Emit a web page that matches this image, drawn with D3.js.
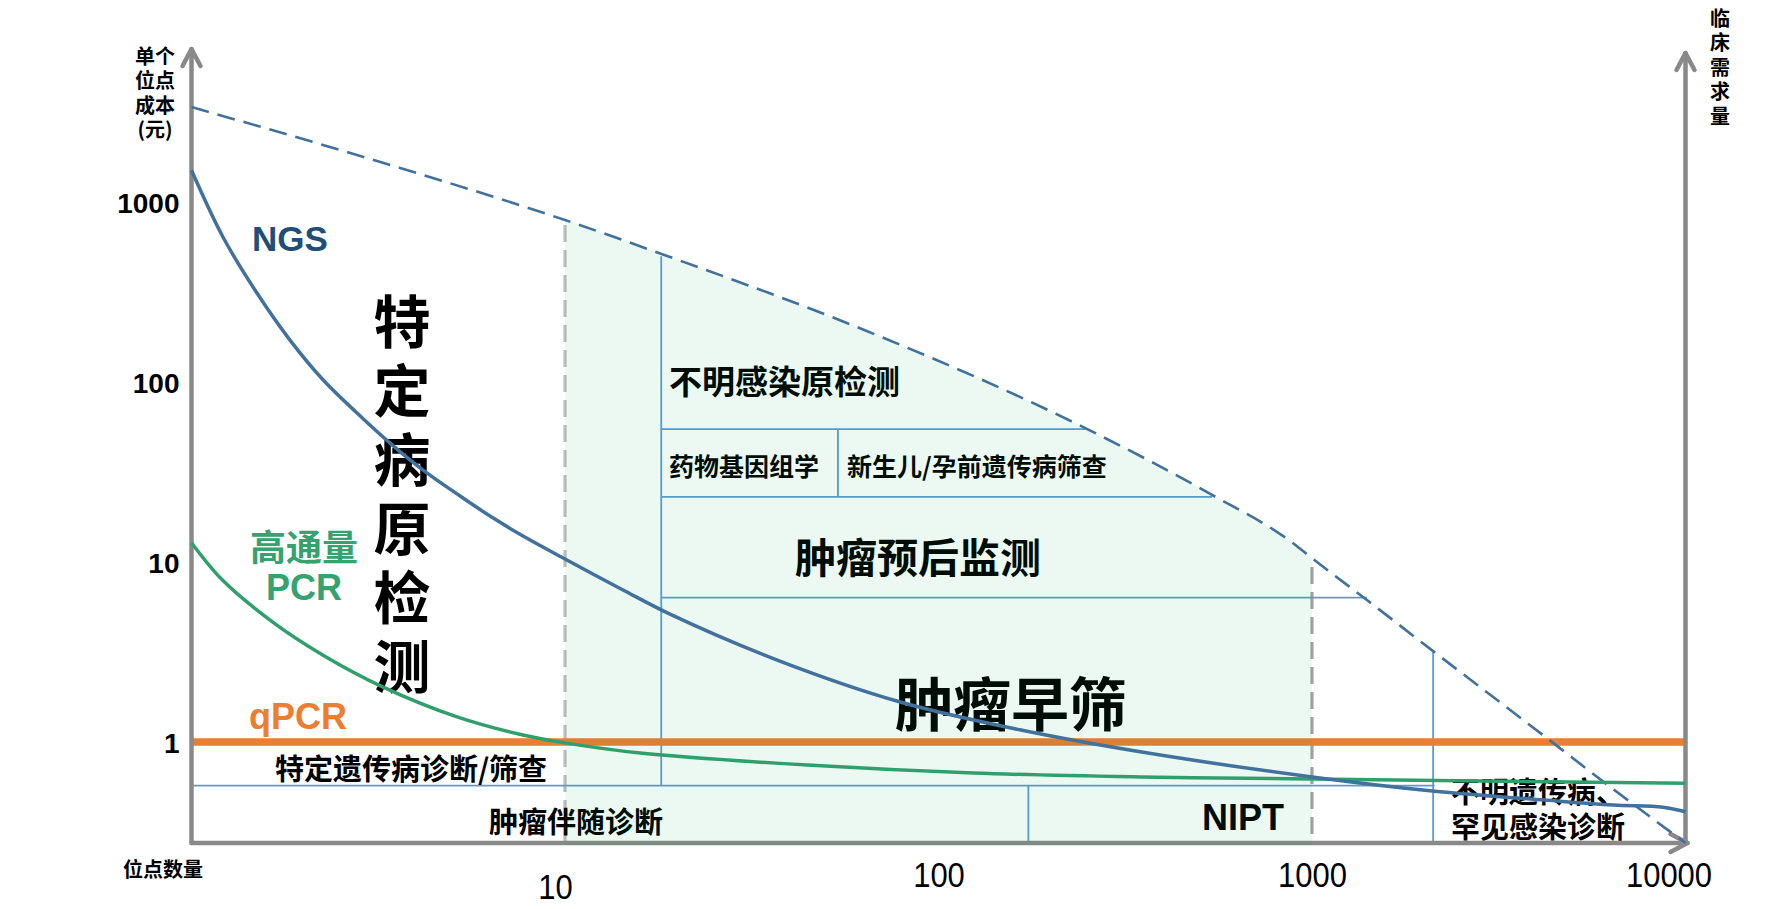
<!DOCTYPE html>
<html><head><meta charset="utf-8">
<script src="https://cdn.jsdelivr.net/npm/d3@7"></script>
<style>
html,body{margin:0;padding:0;background:#fff;}
svg{display:block;font-family:"Liberation Sans",Arial,"Noto Sans CJK SC",sans-serif;}
</style></head><body>
<svg id="chart" width="1779" height="909"></svg>
<script>
// ---------------- data ----------------
const xTicks = [10, 100, 1000, 10000];
const yTicks = [1, 10, 100, 1000];
const axisFloor = 0.275;               // cost value at the x axis

// NGS cost curve (sites, cost per site)
const ngsX = [1, 1.214, 1.497, 1.835, 2.249, 2.774, 3.4, 4.17, 5.14, 6.3, 7.72, 10, 14.3, 19.1, 37.6, 79, 165, 350, 1000, 2100, 4200, 6400, 8700, 10000];
const ngsY = [1500, 639, 312, 171, 103, 67.3, 45.8, 32.4, 23.9, 18.0, 13.95, 10.4, 7.0, 5.14, 2.82, 1.67, 1.17, 0.88, 0.64, 0.535, 0.476, 0.447, 0.435, 0.41];

// high-throughput PCR cost curve
const hptX = [1, 1.21, 1.65, 2.25, 3.26, 5.14, 7.72, 10, 15.9, 44.6, 124, 347, 1000, 10000];
const hptY = [12.8, 7.94, 4.64, 3.04, 2.02, 1.38, 1.094, 0.99, 0.869, 0.745, 0.673, 0.64, 0.623, 0.59];

// qPCR cost (flat)
const qpcrCost = 1;

// clinical demand envelope (dashed)
const envX = [1, 3.62, 10, 19.1, 63.5, 247, 540, 873, 1000, 1403, 2110, 4260, 6400, 10000];
const envY = [3370, 1545, 794, 495, 194, 55.5, 23.6, 13.1, 10.5, 6.15, 3.2, 1.05, 0.548, 0.275];

// shaded NGS-advantage range (sites)
const shadeRange = [10, 1000];

// gray dashed reference verticals: site count, top cost
const refX = [10, 1000];
const refTop = [745, 9.4];

// application partition lines (data units)
const vLineX = [18.1, 53.8, 174, 2110];
const vLineLo = [0.573, 23, axisFloor, axisFloor];
const vLineHi = [500, 54.8, 0.573, 3.2];
const hLineY = [54.8, 23, 6.35, 0.573];
const hLineLo = [18.1, 18.1, 18.1, 1];
const hLineHi = [247, 540, 1403, 2130];

// texts
const yTitle = ["单个", "位点", "成本", "(元)"];
const y2Title = ["临", "床", "需", "求", "量"];
const xTitle = "位点数量";
const seriesNames = ["NGS", "高通量", "PCR", "qPCR"];
const bigLabel = ["特", "定", "病", "原", "检", "测"];
const appLabels = ["不明感染原检测", "药物基因组学", "新生儿/孕前遗传病筛查", "肿瘤预后监测", "肿瘤早筛",
  "特定遗传病诊断/筛查", "肿瘤伴随诊断", "NIPT", "不明遗传病、", "罕见感染诊断"];

// ---------------- drawing ----------------
const svg = d3.select("#chart");
const x = d3.scaleLog().domain([1, 10000]).range([191.5, 1685.5]);
const y = d3.scaleLog().domain([axisFloor, 1000]).range([843, 202]);
const X0 = x(1), X1 = x(10000), Y0 = y(axisFloor);

const BLUE = "#41719c", GREEN = "#2fa06b", ORANGE = "#ed7d31", GRID = "#5b9bd5", AXIS = "#898989";

const lineMono = d3.line().x(d => x(d[0])).y(d => y(d[1])).curve(d3.curveMonotoneX);
const lineSmooth = d3.line().x(d => x(d[0])).y(d => y(d[1])).curve(d3.curveCatmullRom.alpha(0.5));
const zip = (a, b) => a.map((v, i) => [v, b[i]]);

const base = svg.append("g");

// gray dashed verticals
refX.forEach((v, i) => {
  base.append("line")
    .attr("x1", x(v)).attr("x2", x(v))
    .attr("y1", y(refTop[i])).attr("y2", Y0)
    .attr("stroke", i === 0 ? "#bdbdbd" : "#a3a3a3")
    .attr("stroke-width", 3.2)
    .attr("stroke-dasharray", "17,8");
});

// partition grid lines
vLineX.forEach((v, i) => {
  base.append("line")
    .attr("x1", x(v)).attr("x2", x(v))
    .attr("y1", y(vLineLo[i])).attr("y2", y(vLineHi[i]))
    .attr("stroke", GRID).attr("stroke-width", 1.8);
});
hLineY.forEach((v, i) => {
  base.append("line")
    .attr("x1", x(hLineLo[i])).attr("x2", x(hLineHi[i]))
    .attr("y1", y(v)).attr("y2", y(v))
    .attr("stroke", GRID).attr("stroke-width", 1.8);
});

// qPCR flat line
base.append("line")
  .attr("x1", X0).attr("x2", X1)
  .attr("y1", y(qpcrCost)).attr("y2", y(qpcrCost))
  .attr("stroke", ORANGE).attr("stroke-width", 7.5);

// axes lines with arrows
const ax = base.append("g").attr("fill", "none").attr("stroke", AXIS)
  .attr("stroke-width", 4.5).attr("stroke-linecap", "round").attr("stroke-linejoin", "round");
ax.append("path").attr("d", `M${X0},${Y0}L${X0},49`);
ax.append("path").attr("d", `M${X0 - 9},66L${X0},49L${X0 + 9},66`);
ax.append("path").attr("d", `M${X1},${Y0}L${X1},53`);
ax.append("path").attr("d", `M${X1 - 9},70L${X1},53L${X1 + 9},70`);
ax.append("path").attr("d", `M${X0},${Y0}L${X1 + 2},${Y0}`);
ax.append("path").attr("d", `M${X1 - 15},${Y0 - 9}L${X1 + 2},${Y0}L${X1 - 15},${Y0 + 9}`);

// y axis tick labels
const yAxis = d3.axisLeft(y).tickValues(yTicks).tickSize(0).tickPadding(12).tickFormat(d3.format("d"));
const gy = base.append("g").attr("transform", `translate(${X0},0)`).call(yAxis);
gy.select(".domain").remove();
gy.selectAll("text").attr("font-size", 28).attr("font-weight", "bold").attr("fill", "#000")
  .attr("font-family", "'Liberation Sans', Arial, sans-serif").attr("dy", "0.36em");

// x axis tick labels
const xAxis = d3.axisBottom(x).tickValues(xTicks).tickSize(0).tickFormat(d3.format("d"));
const gx = base.append("g").attr("transform", `translate(0,${Y0})`).call(xAxis);
gx.select(".domain").remove();
gx.selectAll("text")
  .attr("font-size", 31).attr("fill", "#000")
  .attr("font-family", "'Liberation Sans', Arial, sans-serif")
  .attr("y", null).attr("dy", "0.36em")
  .attr("transform", d => {
    const dx = d === 10 ? -10 : (d === 10000 ? -17 : 0);
    const dy = d === 10 ? 43 : 31;
    return `translate(${dx},${dy}) scale(1,1.15)`;
  });

// text helper
function txt(g, s, px, py, size, opts = {}) {
  return g.append("text").text(s)
    .attr("x", px).attr("y", py)
    .attr("font-size", size)
    .attr("font-weight", opts.weight || "bold")
    .attr("fill", opts.fill || "#000")
    .attr("text-anchor", opts.anchor || "middle")
    .attr("dominant-baseline", "central")
    .attr("font-family", opts.family || "'Liberation Sans', Arial, 'Noto Sans CJK SC', sans-serif");
}
const CJK = "'Noto Sans CJK SC', sans-serif";

const tg = base.append("g");
yTitle.forEach((s, i) => txt(tg, s, 155, 55 + i * 24.5, 20, {family: CJK}));
y2Title.forEach((s, i) => txt(tg, s, 1720, 17 + i * 24.5, 20, {family: CJK}));
txt(tg, xTitle, 163, 868, 20, {family: CJK});

txt(tg, seriesNames[0], 290, 238, 35, {fill: "#1f4e79"});
txt(tg, seriesNames[1], 304, 545, 36, {fill: "#36a26f", family: CJK});
txt(tg, seriesNames[2], 304, 587, 36, {fill: "#36a26f"});
txt(tg, seriesNames[3], 298, 716, 36, {fill: ORANGE});

bigLabel.forEach((s, i) => txt(tg, s, 402, 318 + i * 69, 57, {family: CJK}));

txt(tg, appLabels[0], 669, 380, 33, {family: CJK, anchor: "start"});
txt(tg, appLabels[1], 669, 465, 25, {family: CJK, anchor: "start"});
txt(tg, appLabels[2], 847, 465, 25, {family: CJK, anchor: "start"});
txt(tg, appLabels[3], 918, 555, 41, {family: CJK});
txt(tg, appLabels[4], 1011, 701, 58, {family: CJK});
txt(tg, appLabels[5], 411, 767, 29, {family: CJK});
txt(tg, appLabels[6], 576, 820, 29, {family: CJK});
txt(tg, appLabels[7], 1243, 817, 36, {});
txt(tg, appLabels[8], 1451, 790, 29, {family: CJK, anchor: "start"});
txt(tg, appLabels[9], 1451, 825, 29, {family: CJK, anchor: "start"});

// translucent green overlay for the shaded range
const envPts = zip(envX, envY);
const shadePts = envPts.filter(d => d[0] >= shadeRange[0] && d[0] <= shadeRange[1]);
const areaGen = d3.area().x(d => x(d[0])).y0(Y0 + 2).y1(d => y(d[1])).curve(d3.curveMonotoneX);
svg.append("path").attr("d", areaGen(shadePts))
  .attr("fill", "rgb(0,176,80)").attr("fill-opacity", 0.075);

// curves
svg.append("path").attr("d", lineMono(envPts))
  .attr("fill", "none").attr("stroke", BLUE).attr("stroke-width", 2.6)
  .attr("stroke-dasharray", "18,9");
svg.append("path").attr("d", lineSmooth(zip(hptX, hptY)))
  .attr("fill", "none").attr("stroke", GREEN).attr("stroke-width", 3.5);
svg.append("path").attr("d", lineSmooth(zip(ngsX, ngsY)))
  .attr("fill", "none").attr("stroke", BLUE).attr("stroke-width", 3.5);
</script>
</body></html>
